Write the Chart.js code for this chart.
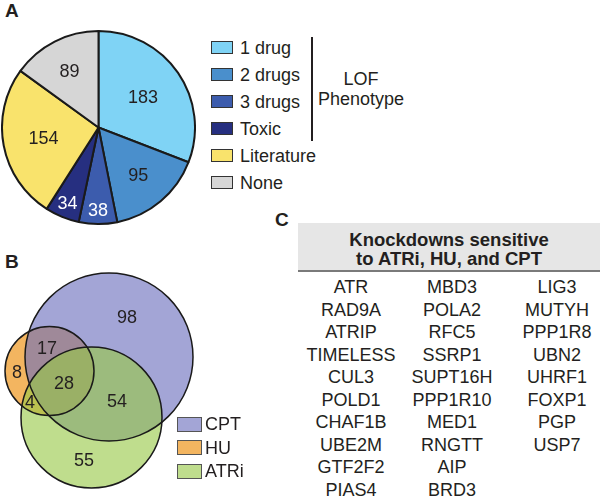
<!DOCTYPE html>
<html>
<head>
<meta charset="utf-8">
<script src="https://cdn.jsdelivr.net/npm/chart.js@4.4.0/dist/chart.umd.min.js"></script>
<style>
  body { margin: 0; width: 600px; height: 497px; position: relative; overflow: hidden; background: #fff;
         font-family: "Liberation Sans", Arial, sans-serif; color: #231f20; }
  .abs { position: absolute; }
  .panel { font-weight: bold; font-size: 19px; line-height: 20px; }
  .swatch { position: absolute; box-sizing: border-box; border: 1.5px solid #333; }
  .lbl { position: absolute; font-size: 18px; line-height: 20px; white-space: nowrap; }
  #hdr { left: 298px; top: 223px; width: 302px; height: 40.5px; padding-top: 6.5px; background: #e6e6e6;
         border-bottom: 2px solid #7a7a7a; font-weight: bold; font-size: 18.5px; line-height: 19px; text-align: center; }
  .cell { position: absolute; width: 100px; text-align: center; font-size: 18px; line-height: 22.5px; white-space: nowrap; }
</style>
</head>
<body>
<div class="abs panel" style="left:5px;top:1px">A</div>
<div class="abs panel" style="left:5px;top:252px">B</div>
<div class="abs panel" style="left:275px;top:210px">C</div>

<canvas id="pie" class="abs" width="195" height="195" style="left:1px;top:30px"></canvas>
<div id="pieLegend"></div>
<div class="abs" style="left:311px;top:37px;width:1.5px;height:104px;background:#231f20"></div>
<div class="lbl" style="left:311px;width:100px;text-align:center;top:69px">LOF</div>
<div class="lbl" style="left:311px;width:100px;text-align:center;top:89px">Phenotype</div>

<canvas id="venn" class="abs" width="300" height="267" style="left:0;top:230px"></canvas>
<div id="vennLegend"></div>

<div id="hdr" class="abs">Knockdowns sensitive<br>to ATRi, HU, and CPT</div>
<div id="table"></div>

<script>
// --- A: pie of LOF phenotype
const pieLabels = ['1 drug', '2 drugs', '3 drugs', 'Toxic', 'Literature', 'None'];
const pieCounts = [183, 95, 38, 34, 154, 89];
const pieColors = ['#7fd3f5', '#4a8fcc', '#3c5cad', '#262f80', '#f9e36c', '#d6d6d6'];
const pieTextColors = ['#231f20', '#231f20', '#fff', '#fff', '#231f20', '#231f20'];
const pieLabelRadius = [0.56, 0.64, 0.86, 0.85, 0.58, 0.66];

// --- B: venn (CPT, HU, ATRi) - centri e raggi nelle unità degli assi
const vennSets = ['CPT', 'HU', 'ATRi'];
const vennColors = ['#a3a5d6', '#f3b560', '#bfdd8d'];
const vennX = [109, 49.5, 91.5];
const vennY = [127, 141, 187.5];
const vennR = [84, 44.5, 70.5];
const regionCounts = [98, 17, 8, 28, 4, 54, 55];
const regionX = [127, 47, 17, 64, 30, 117, 84];
const regionY = [87, 118, 142, 153, 172, 171, 230];

// --- C: knockdowns list (by column)
const col1 = ['ATR', 'RAD9A', 'ATRIP', 'TIMELESS', 'CUL3', 'POLD1', 'CHAF1B', 'UBE2M', 'GTF2F2', 'PIAS4'];
const col2 = ['MBD3', 'POLA2', 'RFC5', 'SSRP1', 'SUPT16H', 'PPP1R10', 'MED1', 'RNGTT', 'AIP', 'BRD3'];
const col3 = ['LIG3', 'MUTYH', 'PPP1R8', 'UBN2', 'UHRF1', 'FOXP1', 'PGP', 'USP7'];

const font = '"Liberation Sans", Arial, sans-serif';

// numeri sulle fette
const pieNumbers = {
  id: 'pieNumbers',
  afterDatasetsDraw(chart) {
    const ctx = chart.ctx;
    const meta = chart.getDatasetMeta(0);
    ctx.save();
    ctx.font = '18px ' + font;
    ctx.textAlign = 'center';
    ctx.textBaseline = 'middle';
    meta.data.forEach((arc, i) => {
      const p = arc.getProps(['x', 'y', 'startAngle', 'endAngle', 'outerRadius']);
      const mid = (p.startAngle + p.endAngle) / 2;
      const r = p.outerRadius * pieLabelRadius[i];
      ctx.fillStyle = pieTextColors[i];
      ctx.fillText(String(pieCounts[i]), p.x + Math.cos(mid) * r, p.y + Math.sin(mid) * r + 1);
    });
    ctx.restore();
  }
};

new Chart(document.getElementById('pie'), {
  type: 'pie',
  data: {
    labels: pieLabels,
    datasets: [{
      data: pieCounts,
      backgroundColor: pieColors,
      borderColor: '#1a1a1a',
      borderWidth: 2
    }]
  },
  options: {
    responsive: false,
    animation: false,
    events: [],
    plugins: { legend: { display: false }, tooltip: { enabled: false } }
  },
  plugins: [pieNumbers]
});

// legenda torta
const pieLeg = document.getElementById('pieLegend');
pieLabels.forEach((name, i) => {
  const cy = 47.5 + i * 27;
  const sw = document.createElement('div');
  sw.className = 'swatch';
  sw.style.cssText = `left:211px;top:${cy - 6.5}px;width:22px;height:13px;background:${pieColors[i]}`;
  pieLeg.appendChild(sw);
  const t = document.createElement('div');
  t.className = 'lbl';
  t.style.cssText = `left:240px;top:${cy - 10}px`;
  t.textContent = name;
  pieLeg.appendChild(t);
});

// venn: HU opaco sotto, poi CPT e ATRi trasparenti sopra
const vennFill = ['rgba(106,110,189,0.62)', '#f3b560', 'rgba(152,200,71,0.62)'];
const drawOrder = [1, 0, 2];
const circlePts = () => drawOrder.map(i => ({ x: vennX[i], y: vennY[i], r: vennR[i] }));

const vennNumbers = {
  id: 'vennNumbers',
  afterDatasetsDraw(chart) {
    const ctx = chart.ctx;
    const xs = chart.scales.x, ys = chart.scales.y;
    ctx.save();
    ctx.font = '18px ' + font;
    ctx.fillStyle = '#231f20';
    ctx.textAlign = 'center';
    ctx.textBaseline = 'middle';
    regionCounts.forEach((n, i) => {
      ctx.fillText(String(n), xs.getPixelForValue(regionX[i]), ys.getPixelForValue(regionY[i]) + 1);
    });
    ctx.restore();
  }
};

new Chart(document.getElementById('venn'), {
  type: 'bubble',
  data: {
    datasets: [
      {
        label: 'outline',
        data: circlePts(),
        backgroundColor: 'rgba(0,0,0,0)',
        borderColor: '#1a1a1a',
        borderWidth: 1.5,
        clip: false,
        order: 0
      },
      {
        label: 'fill',
        data: circlePts(),
        backgroundColor: drawOrder.map(i => vennFill[i]),
        borderColor: 'rgba(0,0,0,0)',
        borderWidth: 0,
        clip: false,
        order: 1
      }
    ]
  },
  options: {
    responsive: false,
    animation: false,
    events: [],
    layout: { padding: 0, autoPadding: false },
    plugins: { legend: { display: false }, tooltip: { enabled: false } },
    scales: {
      // 1 unità = 1 px, così il raggio r della bolla coincide con la scala
      x: { type: 'linear', display: false, min: 0, max: 300 },
      y: { type: 'linear', display: false, min: 0, max: 267, reverse: true }
    }
  },
  plugins: [vennNumbers]
});

// legenda venn
const vennLeg = document.getElementById('vennLegend');
vennSets.forEach((name, i) => {
  const cy = 424 + i * 23.5;
  const sw = document.createElement('div');
  sw.className = 'swatch';
  sw.style.cssText = `left:177px;top:${cy - 7.5}px;width:25px;height:15px;background:${vennColors[i]};border-color:#555`;
  vennLeg.appendChild(sw);
  const t = document.createElement('div');
  t.className = 'lbl';
  t.style.cssText = `left:205px;top:${cy - 10}px`;
  t.textContent = name;
  vennLeg.appendChild(t);
});

// tabella C
const colLeft = [301, 402, 507];
const tbl = document.getElementById('table');
[col1, col2, col3].forEach((col, c) => {
  col.forEach((g, r) => {
    const d = document.createElement('div');
    d.className = 'cell';
    d.style.left = colLeft[c] + 'px';
    d.style.top = (276 + r * 22.5) + 'px';
    d.textContent = g;
    tbl.appendChild(d);
  });
});
</script>
</body>
</html>
